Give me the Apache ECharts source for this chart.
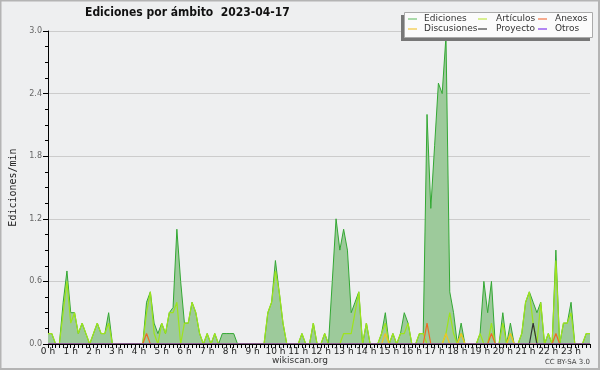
<!DOCTYPE html>
<html><head><meta charset="utf-8">
<script src="https://cdn.jsdelivr.net/npm/echarts@6/dist/echarts.min.js"></script>
<style>html,body{margin:0;padding:0;background:#eeeff0}#c{width:600px;height:370px}</style>
</head><body><div id="c"></div>
<script>
const chartTitle = 'Ediciones por ámbito  2023-04-17';
const yAxisTitle = 'Ediciones/min';
const footerLeft = 'wikiscan.org';
const footerRight = 'CC BY-SA 3.0';
const seriesNames = ['Ediciones', 'Artículos', 'Anexos', 'Discusiones', 'Proyecto', 'Otros'];
const yTicks = [0, 0.6, 1.2, 1.8, 2.4, 3.0];
const slotMinutes = 10;   // one sample every 10 minutes, 0:00 .. 23:50
const hours = [0,1,2,3,4,5,6,7,8,9,10,11,12,13,14,15,16,17,18,19,20,21,22,23];

const ediciones = [
 0.1,0.1,0,0,0.4,0.7, 0.3,0.3,0.1,0.2,0.1,0, 0.1,0.2,0.1,0.1,0.3,0, 0,0,0,0,0,0,
 0,0,0.4,0.5,0.2,0.1, 0.2,0.1,0.3,0.35,1.1,0.6, 0.2,0.2,0.4,0.3,0.1,0, 0.1,0,0.1,0,0.1,0.1,
 0.1,0.1,0,0,0,0, 0,0,0,0,0.3,0.4, 0.8,0.5,0.2,0,0,0, 0,0.1,0,0,0.2,0,
 0,0.1,0,0.6,1.2,0.9, 1.1,0.9,0.3,0.4,0.5,0, 0.2,0,0,0,0.1,0.3, 0,0.1,0,0.1,0.3,0.2,
 0,0,0.1,0.1,2.2,1.3, 1.9,2.5,2.4,2.95,0.5,0.3, 0,0.2,0,0,0,0, 0.1,0.6,0.3,0.6,0,0,
 0.3,0,0.2,0,0,0.1, 0.4,0.5,0.4,0.3,0.4,0, 0.1,0,0.9,0,0.2,0.2, 0.4,0,0,0,0.1,0.1
];
const articulos = [
 0.1,0.1,0,0,0.3,0.6, 0.2,0.3,0.1,0.2,0.1,0, 0.1,0.2,0.1,0.1,0.2,0, 0,0,0,0,0,0,
 0,0,0.3,0.5,0.1,0, 0.2,0.1,0.3,0.3,0.4,0, 0.2,0.2,0.4,0.3,0.1,0, 0.1,0,0.1,0,0,0,
 0,0,0,0,0,0, 0,0,0,0,0.3,0.4, 0.7,0.5,0.2,0,0,0, 0,0.1,0,0,0.2,0,
 0,0.1,0,0,0,0, 0.1,0.1,0.1,0.3,0.5,0, 0.2,0,0,0,0.1,0.2, 0,0.1,0,0.1,0.1,0.2,
 0,0,0.1,0.1,0,0, 0,0,0,0.1,0.3,0.1, 0,0.1,0,0,0,0, 0.1,0,0,0.2,0,0,
 0.2,0,0.1,0,0,0.1, 0.4,0.5,0.2,0,0.4,0, 0.1,0,0.8,0,0.2,0.2, 0.3,0,0,0,0.1,0.1
];
const anexos = [
 0,0,0,0,0,0, 0,0,0,0,0,0, 0,0,0,0,0,0, 0,0,0,0,0,0,
 0,0,0.1,0,0,0, 0,0,0,0,0,0, 0,0,0,0,0,0, 0,0,0,0,0,0,
 0,0,0,0,0,0, 0,0,0,0,0,0, 0,0,0,0,0,0, 0,0,0,0,0,0,
 0,0,0,0,0,0, 0,0,0,0,0,0, 0,0,0,0,0,0, 0,0,0,0,0,0,
 0,0,0,0,0.2,0, 0,0,0,0,0,0, 0,0,0,0,0,0, 0,0,0,0.1,0,0,
 0,0,0,0,0,0, 0,0,0,0,0,0, 0,0,0.1,0,0,0, 0,0,0,0,0,0
];
const discusiones = [
 0,0,0,0,0,0, 0,0,0,0,0,0, 0,0,0,0,0,0, 0,0,0,0,0,0,
 0,0,0,0,0,0, 0,0,0,0,0,0, 0,0,0,0,0,0, 0,0,0,0,0,0,
 0,0,0,0,0,0, 0,0,0,0,0,0, 0,0,0,0,0,0, 0,0,0,0,0,0,
 0,0,0,0,0,0, 0,0,0,0,0,0, 0,0,0,0,0,0.1, 0,0,0,0,0,0,
 0,0,0,0,0,0, 0,0,0,0.1,0,0, 0,0.1,0,0,0,0, 0,0,0,0,0,0,
 0,0,0.1,0,0,0, 0,0,0,0,0,0, 0,0,0,0,0,0, 0,0,0,0,0,0
];
const proyecto = [
 0,0,0,0,0,0, 0,0,0,0,0,0, 0,0,0,0,0,0, 0,0,0,0,0,0,
 0,0,0,0,0,0, 0,0,0,0,0,0, 0,0,0,0,0,0, 0,0,0,0,0,0,
 0,0,0,0,0,0, 0,0,0,0,0,0, 0,0,0,0,0,0, 0,0,0,0,0,0,
 0,0,0,0,0,0, 0,0,0,0,0,0, 0,0,0,0,0,0, 0,0,0,0,0,0,
 0,0,0,0,0,0, 0,0,0,0,0,0, 0,0,0,0,0,0, 0,0,0,0,0,0,
 0,0,0,0,0,0, 0,0,0.2,0,0,0, 0,0,0,0,0,0, 0,0,0,0,0,0
];
const otros = [
 0,0,0,0,0,0, 0,0,0,0,0,0, 0,0,0,0,0,0, 0,0,0,0,0,0,
 0,0,0,0,0,0, 0,0,0,0,0,0, 0,0,0,0,0,0, 0,0,0,0,0,0,
 0,0,0,0,0,0, 0,0,0,0,0,0, 0,0,0,0,0,0, 0,0,0,0,0,0,
 0,0,0,0,0,0, 0,0,0,0,0,0, 0,0,0,0,0,0, 0,0,0,0,0,0,
 0,0,0,0,0,0, 0,0,0,0,0,0, 0,0,0,0,0,0, 0,0,0,0,0,0,
 0,0,0,0,0,0, 0,0,0,0,0,0, 0,0,0,0,0,0, 0,0,0,0,0,0
];

const times = ediciones.map((_, i) => i * slotMinutes);
const lastTime = times[times.length - 1];
const pairs = arr => arr.map((v, i) => [times[i], v]);

const lineColors = ['#33a833', '#9ee41c', '#ee6a24', '#f0c424', '#333333', '#8e44e8'];
const legendColors = ['#8fcf8f', '#cdeb6e', '#f5906a', '#f5d262', '#666666', '#9a5ff0'];
const valueArrays = [ediciones, articulos, anexos, discusiones, proyecto, otros];

const font = 'DejaVu Sans';
const chart = echarts.init(document.getElementById('c'), null, {renderer: 'canvas'});

function legendCol(names, left, pad) {
  return {
    data: names.map(n => {
      const k = seriesNames.indexOf(n);
      return {name: n, icon: 'rect', itemStyle: {color: legendColors[k]}};
    }),
    orient: 'vertical', left: left, top: 14, padding: 0,
    itemWidth: 9, itemHeight: 1.5, itemGap: 0,
    selectedMode: false, z: 6,
    textStyle: {fontSize: 9, fontFamily: font, color: '#333', lineHeight: 10, height: 10, padding: [0, 0, 0, pad]}
  };
}

const series = seriesNames.map((n, k) => {
  const s = {
    name: n, type: 'line', data: pairs(valueArrays[k]),
    symbol: 'none', showSymbol: false, smooth: false,
    lineStyle: {color: lineColors[k], width: k === 0 ? 1 : 1.2},
    itemStyle: {color: lineColors[k]},
    z: 2 + k * 0.01
  };
  if (k === 0) s.areaStyle = {color: '#9dca9b', opacity: 1};
  return s;
});

chart.setOption({
  animation: false,
  backgroundColor: '#eeeff0',
  title: {
    text: chartTitle, left: 85, top: 7, padding: 0,
    textStyle: {fontSize: 12, fontWeight: 'bold', fontFamily: 'DejaVu Sans Condensed, DejaVu Sans', color: '#111'}
  },
  legend: [
    legendCol(['Ediciones', 'Discusiones'], 408, 2),
    legendCol(['Artículos', 'Proyecto'], 478, 4),
    legendCol(['Anexos', 'Otros'], 538, 3)
  ],
  grid: {left: 45, right: 10, top: 31, bottom: 26},
  xAxis: {
    type: 'value', min: 0, max: lastTime, z: 10,
    axisLine: {show: true, lineStyle: {color: '#000', width: 1}},
    axisTick: {show: true, length: 4, lineStyle: {color: '#000'}, customValues: times},
    axisLabel: {
      customValues: hours.map(h => h * 60), margin: 3,
      fontSize: 9, fontFamily: font, color: '#222',
      formatter: v => (v / 60) + ' h'
    },
    splitLine: {show: false}
  },
  yAxis: {
    type: 'value', min: 0, max: 3, interval: 0.6,
    name: yAxisTitle, nameLocation: 'middle', nameGap: 30, nameRotate: 90,
    nameTextStyle: {fontSize: 10, fontFamily: 'DejaVu Sans Mono', color: '#222'},
    axisLine: {show: true, lineStyle: {color: '#000', width: 1}},
    axisTick: {show: true, length: 5, lineStyle: {color: '#000'}},
    minorTick: {show: true, splitNumber: 4, length: 3, lineStyle: {color: '#000'}},
    axisLabel: {fontSize: 8, fontFamily: font, color: '#666', margin: 6, formatter: v => v.toFixed(1)},
    splitLine: {show: true, lineStyle: {color: '#cccccc', width: 1}}
  },
  graphic: [
    {type: 'rect', z: 100, silent: true, shape: {x: 0.5, y: 0.5, width: 598.5, height: 368.5},
     style: {fill: null, stroke: '#b4b4b4', lineWidth: 2}},
    {type: 'rect', z: 3, silent: true, shape: {x: 401, y: 15, width: 189, height: 26},
     style: {fill: '#777777'}},
    {type: 'rect', z: 3, silent: true, shape: {x: 404.5, y: 12.5, width: 188, height: 25},
     style: {fill: '#fbfbfb', stroke: '#aaaaaa', lineWidth: 1}},
    {type: 'text', z: 5, silent: true, x: 300, y: 361,
     style: {text: footerLeft, fontSize: 9, fontFamily: font, fill: '#333', align: 'center', verticalAlign: 'middle'}},
    {type: 'text', z: 5, silent: true, x: 590, y: 362,
     style: {text: footerRight, fontSize: 7, fontFamily: font, fill: '#444', align: 'right', verticalAlign: 'middle'}}
  ],
  series: series
});
</script></body></html>
